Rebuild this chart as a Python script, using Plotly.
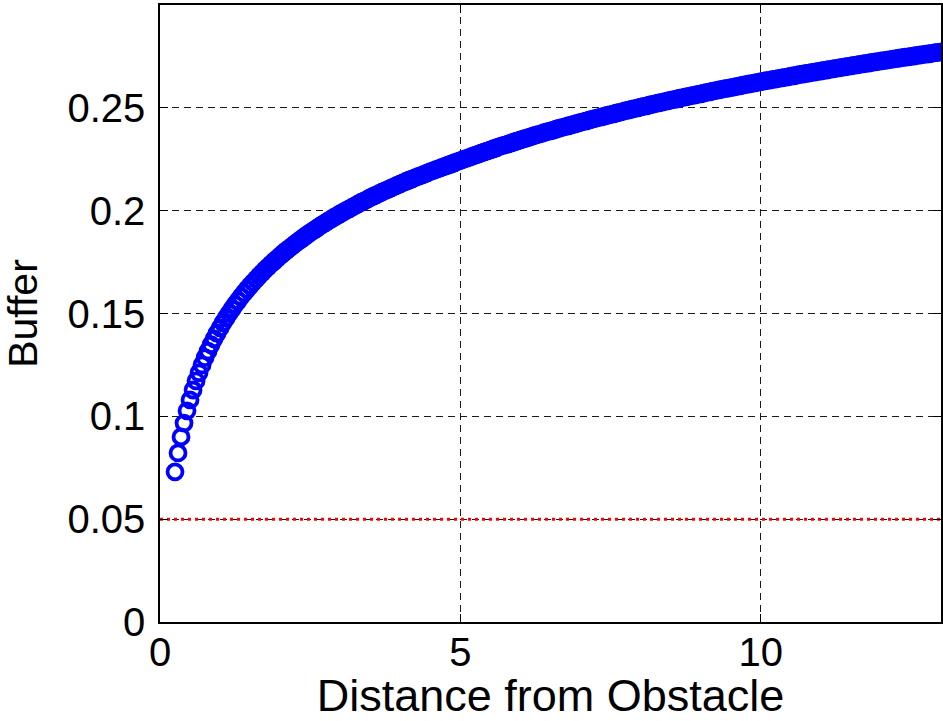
import plotly.graph_objects as go

# Distance samples (uniform 0.05 spacing from 0.25 to 13)
distance = [round(0.25 + 0.05 * i, 2) for i in range(256)]

# Buffer values, one per distance sample
buffer_vals = [
    0.0730, 0.0822, 0.0900, 0.0967, 0.1027, 0.1080, 0.1128, 0.1172, 0.1212, 0.1250,
    0.1285, 0.1317, 0.1348, 0.1377, 0.1404, 0.1430, 0.1455, 0.1478, 0.1501, 0.1522,
    0.1543, 0.1562, 0.1582, 0.1600, 0.1618, 0.1635, 0.1651, 0.1667, 0.1683, 0.1698,
    0.1713, 0.1727, 0.1741, 0.1754, 0.1767, 0.1780, 0.1793, 0.1805, 0.1817, 0.1828,
    0.1840, 0.1851, 0.1861, 0.1872, 0.1883, 0.1893, 0.1903, 0.1912, 0.1922, 0.1932,
    0.1941, 0.1950, 0.1959, 0.1968, 0.1976, 0.1985, 0.1993, 0.2001, 0.2009, 0.2017,
    0.2025, 0.2033, 0.2041, 0.2048, 0.2055, 0.2063, 0.2070, 0.2077, 0.2084, 0.2091,
    0.2097, 0.2104, 0.2111, 0.2117, 0.2124, 0.2130, 0.2136, 0.2143, 0.2149, 0.2155,
    0.2161, 0.2167, 0.2172, 0.2178, 0.2184, 0.2190, 0.2195, 0.2201, 0.2206, 0.2212,
    0.2217, 0.2222, 0.2227, 0.2233, 0.2238, 0.2243,
    0.2249, 0.2254, 0.2259, 0.2265, 0.2270, 0.2275, 0.2281, 0.2286, 0.2291, 0.2296,
    0.2301, 0.2306, 0.2311, 0.2316, 0.2320, 0.2325, 0.2330, 0.2335, 0.2339, 0.2344,
    0.2349, 0.2353, 0.2358, 0.2362, 0.2367, 0.2371, 0.2375, 0.2380, 0.2384, 0.2388,
    0.2392, 0.2397, 0.2401, 0.2405, 0.2409, 0.2413, 0.2417, 0.2421, 0.2425, 0.2429,
    0.2433, 0.2437, 0.2441, 0.2445, 0.2449, 0.2452, 0.2456, 0.2460, 0.2464, 0.2467,
    0.2471, 0.2475, 0.2478, 0.2482, 0.2486, 0.2489, 0.2493, 0.2496, 0.2500, 0.2503,
    0.2507, 0.2510, 0.2514, 0.2517, 0.2520, 0.2524, 0.2527, 0.2530, 0.2534, 0.2537,
    0.2540, 0.2543, 0.2547, 0.2550, 0.2553, 0.2556, 0.2559, 0.2562, 0.2565, 0.2568,
    0.2572, 0.2575, 0.2578, 0.2581, 0.2584, 0.2587, 0.2590, 0.2593, 0.2595, 0.2598,
    0.2601, 0.2604, 0.2607, 0.2610, 0.2613, 0.2616, 0.2618, 0.2621, 0.2624, 0.2627,
    0.2630, 0.2632, 0.2635, 0.2638, 0.2640, 0.2643, 0.2646, 0.2648, 0.2651, 0.2654,
    0.2656, 0.2659, 0.2662, 0.2664, 0.2667, 0.2669, 0.2672, 0.2674, 0.2677, 0.2679,
    0.2682, 0.2684, 0.2687, 0.2689, 0.2692, 0.2694, 0.2697, 0.2699, 0.2702, 0.2704,
    0.2706, 0.2709, 0.2711, 0.2714, 0.2716, 0.2718, 0.2721, 0.2723, 0.2725, 0.2728,
    0.2730, 0.2732, 0.2734, 0.2737, 0.2739, 0.2741, 0.2744, 0.2746, 0.2748, 0.2750,
    0.2752, 0.2755, 0.2757, 0.2759, 0.2761, 0.2763, 0.2765, 0.2768, 0.2770, 0.2772,
]

# Minimum buffer threshold line
threshold_x = [0, 13]
threshold_y = [0.05, 0.05]

x_ticks = [0, 5, 10]
y_ticks = [0, 0.05, 0.1, 0.15, 0.2, 0.25]
y_tick_text = ["0", "0.05", "0.1", "0.15", "0.2", "0.25"]

fig = go.Figure()
fig.add_trace(go.Scatter(
    x=threshold_x, y=threshold_y, mode="lines",
    line=dict(color="#ff0000", width=3, dash="3px,4px"),
    hoverinfo="skip",
))
fig.add_trace(go.Scatter(
    x=distance, y=buffer_vals, mode="markers",
    marker=dict(symbol="circle-open", size=15, color="#0000ff",
                line=dict(width=3.8, color="#0000ff")),
))

font_family = "Liberation Sans, Arial, Helvetica, sans-serif"

fig.update_layout(
    width=943, height=721,
    margin=dict(l=160, r=2, t=5, b=99, autoexpand=False),
    plot_bgcolor="white", paper_bgcolor="white",
    showlegend=False,
    font=dict(family=font_family, size=40, color="black"),
)
fig.update_xaxes(
    range=[0, 13], tickvals=x_ticks, ticktext=[str(v) for v in x_ticks],
    ticks="inside", ticklen=8, tickwidth=1, tickcolor="black",
    showline=True, linecolor="black", linewidth=1.5, mirror="ticks",
    showgrid=True, gridcolor="#1a1a1a", gridwidth=1, griddash="7px,5px",
    zeroline=False, automargin=False,
    title=dict(text="Distance from Obstacle", font=dict(size=45), standoff=14),
    tickfont=dict(size=40), ticklabelstandoff=-6,
)
fig.update_yaxes(
    range=[0, 0.3], tickvals=y_ticks, ticktext=y_tick_text,
    ticks="inside", ticklen=8, tickwidth=1, tickcolor="black",
    showline=True, linecolor="black", linewidth=1.5, mirror="ticks",
    showgrid=True, gridcolor="#1a1a1a", gridwidth=1, griddash="7px,5px",
    zeroline=False, automargin=False,
    title=dict(text="Buffer", font=dict(size=41), standoff=22),
    tickfont=dict(size=40), ticklabelstandoff=5,
)

fig.write_html(
    "out.html",
    config={"displayModeBar": False},
    post_script="document.body.style.margin='0';document.body.style.overflow='hidden';",
)
